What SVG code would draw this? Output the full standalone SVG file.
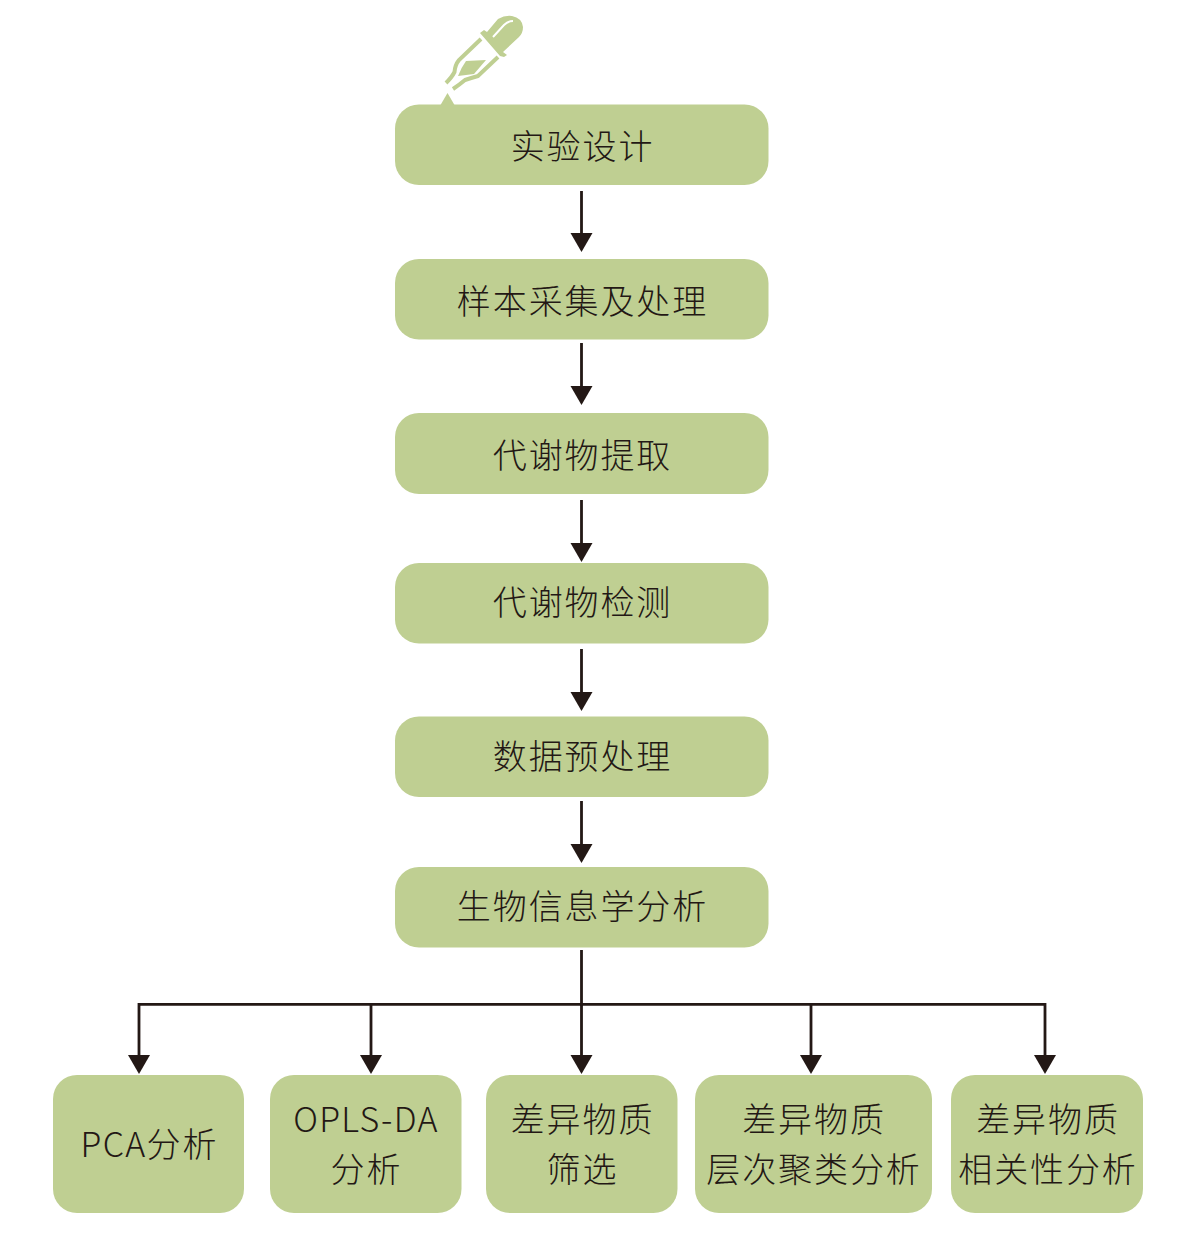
<svg xmlns="http://www.w3.org/2000/svg" width="1187" height="1240" viewBox="0 0 1187 1240">
<style>
.n{fill:#bfcf92}
.t{font-family:"Noto Sans CJK SC","Noto Sans",sans-serif;font-size:34px;font-weight:300;letter-spacing:1.900px;fill:#231815;text-anchor:middle}
.l{letter-spacing:1.300px}
.c{fill:none;stroke:#231815;stroke-width:2.800}
.h{fill:#231815}
.d{fill:none;stroke:#bfcf92;stroke-width:4}
</style>
<defs>
<path id="a" class="h" d="M-11 0H11L0 19Z"/>
</defs>
<rect width="1187" height="1240" fill="#fff"/>
<g id="dropper">
<path d="M480 33 L484 30 L487 32 L498 19 Q505 15 512 16 Q522 18 523 27 Q523 33 519 37 L503 52 L507 55 L504 57 L500 56 Z" class="n"/>
<path d="M493 37 L504 25 Q508 21 513 21" fill="none" stroke="#fff" stroke-width="2"/>
<path d="M481 39 L459 60 Q455 65 454.500 72 Q452 77 446 83" class="d"/>
<path d="M498 57 L478 76 Q471 78 465 80 Q459 85 453 89" class="d"/>
<path d="M466 61 L486 60 L474 74 L458 76 Q461 68 466 61Z" class="n"/>
<path d="M447.500 93 L454.500 105 H440.500Z" class="n"/>
</g>
<g id="n1"><rect class="n" x="395" y="104.500" width="373.500" height="80.500" rx="24"/><text class="t" x="582.500" y="159">实验设计</text></g>
<g id="n2"><rect class="n" x="395" y="259" width="373.500" height="80.500" rx="24"/><text class="t" x="582.500" y="314">样本采集及处理</text></g>
<g id="n3"><rect class="n" x="395" y="413" width="373.500" height="81" rx="24"/><text class="t" x="582.500" y="468">代谢物提取</text></g>
<g id="n4"><rect class="n" x="395" y="563" width="373.500" height="80.500" rx="24"/><text class="t" x="582.500" y="615">代谢物检测</text></g>
<g id="n5"><rect class="n" x="395" y="716.500" width="373.500" height="80.500" rx="24"/><text class="t" x="582.500" y="769">数据预处理</text></g>
<g id="n6"><rect class="n" x="395" y="867" width="373.500" height="80.500" rx="24"/><text class="t" x="582.500" y="919">生物信息学分析</text></g>
<g id="n7"><rect class="n" x="53" y="1075" width="191" height="138" rx="24"/><text class="t" x="149.500" y="1157"><tspan class="l">PCA</tspan>分析</text></g>
<g id="n8"><rect class="n" x="270" y="1075" width="191.500" height="138" rx="24"/><text class="t l" x="366" y="1132">OPLS-DA</text><text class="t" x="366.500" y="1182">分析</text></g>
<g id="n9"><rect class="n" x="486" y="1075" width="191.500" height="138" rx="24"/><text class="t" x="582.500" y="1132">差异物质</text><text class="t" x="582.500" y="1182">筛选</text></g>
<g id="n10"><rect class="n" x="695" y="1075" width="237" height="138" rx="24"/><text class="t" x="814" y="1132">差异物质</text><text class="t" x="814" y="1182">层次聚类分析</text></g>
<g id="n11"><rect class="n" x="951" y="1075" width="192" height="138" rx="24"/><text class="t" x="1048" y="1132">差异物质</text><text class="t" x="1048" y="1182">相关性分析</text></g>
<g id="connectors">
<path class="c" d="M581.500 191V234M581.500 343V386M581.500 500V543M581.500 649V692M581.500 801V844M581.500 950V1055M139 1055V1004.300H1045V1055M371 1004.300V1055M811 1004.300V1055"/>
<use href="#a" x="581.500" y="233"/><use href="#a" x="581.500" y="386"/><use href="#a" x="581.500" y="543"/><use href="#a" x="581.500" y="692"/><use href="#a" x="581.500" y="844"/>
<use href="#a" x="139" y="1055"/><use href="#a" x="371" y="1055"/><use href="#a" x="581.500" y="1055"/><use href="#a" x="811" y="1055"/><use href="#a" x="1045" y="1055"/>
</g>
</svg>
